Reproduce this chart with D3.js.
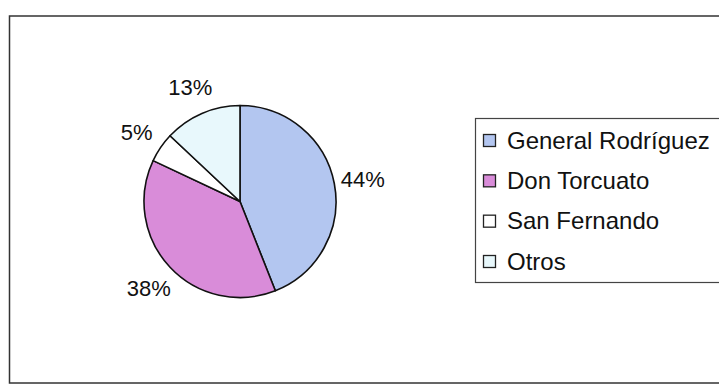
<!DOCTYPE html>
<html>
<head>
<meta charset="utf-8">
<script src="https://cdn.jsdelivr.net/npm/d3@7"></script>
<style>
  html, body { margin: 0; padding: 0; background: #fff; }
  svg { display: block; }
  text { font-family: "Liberation Sans", Arial, sans-serif; fill: #111; }
</style>
</head>
<body>
<svg id="svg" width="719" height="385"></svg>
<script>
const categories = ["General Rodríguez", "Don Torcuato", "San Fernando", "Otros"];
const values = [44, 38, 5, 13];
const colors = ["#b3c6f0", "#d98cd9", "#ffffff", "#e8f8fc"];

const width = 719;
const height = 385;
const svg = d3.select("#svg");

// outer frame (right side runs off the picture)
svg.append("rect")
  .attr("x", 9.5).attr("y", 16)
  .attr("width", 730).attr("height", 367)
  .attr("fill", "none")
  .attr("stroke", "#333")
  .attr("stroke-width", 1.5);

const cx = 240, cy = 201.5, r = 96;

const data = categories.map((c, i) => ({ name: c, value: values[i], color: colors[i] }));

const pie = d3.pie().sort(null).value(d => d.value);
const arc = d3.arc().innerRadius(0).outerRadius(r);
const arcs = pie(data);

const g = svg.append("g").attr("transform", `translate(${cx},${cy})`);

g.selectAll("path")
  .data(arcs)
  .join("path")
  .attr("d", arc)
  .attr("fill", d => d.data.color)
  .attr("stroke", "#111")
  .attr("stroke-width", 1.6)
  .attr("stroke-linejoin", "round");

// percentage labels outside the pie
const labelR = 125;
g.selectAll("text.pct")
  .data(arcs)
  .join("text")
  .attr("class", "pct")
  .attr("x", d => Math.sin((d.startAngle + d.endAngle) / 2) * labelR)
  .attr("y", d => -Math.cos((d.startAngle + d.endAngle) / 2) * labelR + 1)
  .attr("text-anchor", "middle")
  .attr("dominant-baseline", "central")
  .attr("font-size", 22)
  .text(d => d.data.value + "%");

// legend
const legend = svg.append("g");
legend.append("rect")
  .attr("x", 475.5).attr("y", 118.5)
  .attr("width", 260).attr("height", 164)
  .attr("fill", "#fff")
  .attr("stroke", "#444")
  .attr("stroke-width", 1.2);

const ly = d3.scalePoint().domain(categories).range([140, 261]);

const items = legend.selectAll("g.item")
  .data(data)
  .join("g")
  .attr("class", "item")
  .attr("transform", d => `translate(0,${ly(d.name)})`);

items.append("rect")
  .attr("x", 483.5).attr("y", -5.5)
  .attr("width", 12).attr("height", 12)
  .attr("fill", d => d.color)
  .attr("stroke", "#222")
  .attr("stroke-width", 1.3);

items.append("text")
  .attr("x", 507)
  .attr("y", 0)
  .attr("dominant-baseline", "central")
  .attr("font-size", 24)
  .text(d => d.name);
</script>
</body>
</html>
